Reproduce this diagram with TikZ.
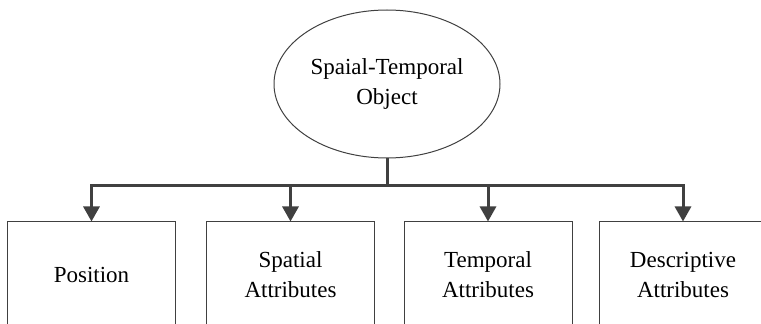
\documentclass[tikz,border=0pt]{standalone}
\usepackage{fontspec}
\setmainfont{Liberation Serif}
\usetikzlibrary{shapes.geometric,arrows.meta}
\definecolor{linegray}{HTML}{404040}
\tikzset{
    objnode/.style={ellipse, draw=linegray, line width=1pt, minimum width=226pt, minimum height=148pt, align=center, inner sep=0pt},
    attrbox/.style={rectangle, draw=linegray, line width=1pt, minimum width=168pt, minimum height=106pt, align=center},
    conn/.style={draw=linegray, line width=3pt},
    connarrow/.style={conn, -{Triangle[width=16pt,length=15pt]}}
}
\begin{document}
\begin{tikzpicture}[x=1pt, y=1pt, font=\fontsize{23}{30}\selectfont]
    \useasboundingbox (0,0) rectangle (761,324);

    % -- Objet racine --
    \node[objnode] (obj) at (387,240) {Spaial-Temporal\\Object};

    % -- Attributs --
    \node[attrbox] (pos)  at (91.5,49) {Position};
    \node[attrbox] (spat) at (290.5,49) {Spatial\\Attributes};
    \node[attrbox] (temp) at (488,49) {Temporal\\Attributes};
    \node[attrbox] (desc) at (683,49) {Descriptive\\Attributes};

    % Bus horizontal
    \coordinate (bus) at (387,138);

    % Liaisons
    \draw[conn] (obj.south) -- (bus);
    \draw[conn, line cap=rect] (bus -| pos.north) -- (bus -| desc.north);
    \foreach \b in {pos,spat,temp,desc}
        \draw[connarrow] (bus -| \b.north) -- (\b.north);
\end{tikzpicture}
\end{document}
